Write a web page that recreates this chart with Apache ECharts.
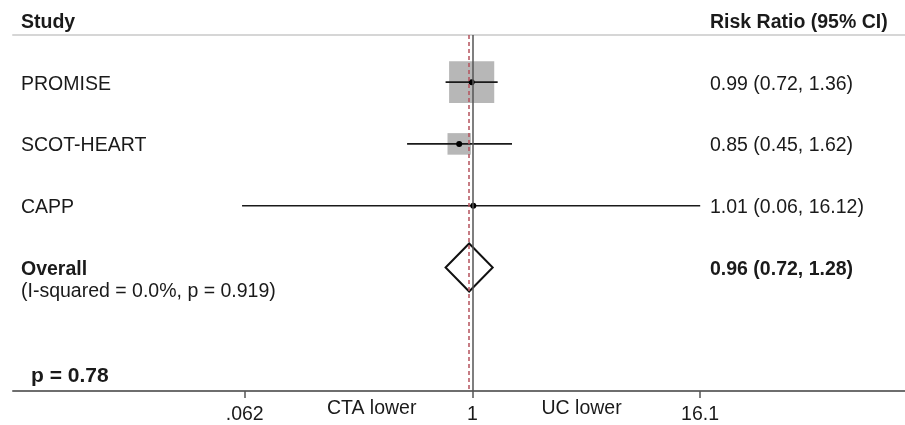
<!DOCTYPE html>
<html><head><meta charset="utf-8">
<script src="https://cdn.jsdelivr.net/npm/echarts@6/dist/echarts.min.js"></script>
<style>html,body{margin:0;padding:0;background:#fff}#c{width:905px;height:425px}</style>
</head><body><div id="c"></div>
<script>
// ---- data ----
const headers = ['Study', 'Risk Ratio (95% CI)'];
const studies = ['PROMISE', 'SCOT-HEART', 'CAPP'];
const rr = [0.99, 0.85, 1.01];
const lower = [0.72, 0.45, 0.06];
const upper = [1.36, 1.62, 16.12];
const weights = [78.5, 21.0, 0.5];
const overallLabel = 'Overall';
const heterogeneity = '(I-squared = 0.0%, p = 0.919)';
const overall = [0.96, 0.72, 1.28]; // estimate, lower, upper
const pValueText = 'p = 0.78';
const tickValues = [0.062, 1, 16.1];
const tickLabels = ['.062', '1', '16.1'];
const sideLabelValues = [0.292, 3.79];
const sideLabels = ['CTA lower', 'UC lower'];

// ---- layout / style ----
const FONT = '"Liberation Sans", Arial, Helvetica, sans-serif';
const TXT = '#1a1a1a';
const FS = 19.5;
const X_MIN = 0.003661, X_MAX = 196.5;
const fmt = v => v.toFixed(2);
const nRows = studies.length;

const tableRows = [{row: -1, left: headers[0], right: headers[1], bold: true}];
studies.forEach((s, i) => tableRows.push({row: i, left: s, right: `${fmt(rr[i])} (${fmt(lower[i])}, ${fmt(upper[i])})`, bold: false}));
tableRows.push({row: nRows, left: overallLabel, sub: heterogeneity,
  right: `${fmt(overall[0])} (${fmt(overall[1])}, ${fmt(overall[2])})`, bold: true});

const labelValues = [tickValues[0], sideLabelValues[0], tickValues[1], sideLabelValues[1], tickValues[2]];
const labelTexts = [tickLabels[0], sideLabels[0], tickLabels[1], sideLabels[1], tickLabels[2]];

function labelFor(v) {
  let best = 0;
  labelValues.forEach((lv, k) => {
    if (Math.abs(Math.log(lv) - Math.log(v)) < Math.abs(Math.log(labelValues[best]) - Math.log(v))) best = k;
  });
  const isTick = tickValues.indexOf(labelValues[best]) >= 0;
  return isTick ? `{n|${labelTexts[best]}}` : `{t|${labelTexts[best]}}`;
}

const chart = echarts.init(document.getElementById('c'), null, {renderer: 'canvas'});
chart.setOption({
  animation: false,
  backgroundColor: '#fff',
  grid: {left: 13, right: 0, top: 35, bottom: 32.5, containLabel: false},
  xAxis: [{
    type: 'log', logBase: 10, min: X_MIN, max: X_MAX, position: 'bottom',
    axisLine: {show: true, onZero: false, lineStyle: {color: '#6e6e6e', width: 2}},
    axisTick: {show: true, customValues: tickValues, length: 7, lineStyle: {color: '#555', width: 1.5}},
    minorTick: {show: false},
    splitLine: {show: false},
    axisLabel: {
      customValues: labelValues, margin: 8, formatter: labelFor, color: TXT,
      fontFamily: FONT, fontSize: FS,
      rich: {
        n: {fontFamily: FONT, fontSize: FS, color: TXT, padding: [6, 0, 0, 0]},
        t: {fontFamily: FONT, fontSize: FS, color: TXT}
      }
    }
  }, {
    type: 'log', logBase: 10, min: X_MIN, max: X_MAX, position: 'top',
    axisLine: {show: true, onZero: false, lineStyle: {color: '#d6d6d6', width: 2}},
    axisTick: {show: false}, axisLabel: {show: false}, splitLine: {show: false}, minorTick: {show: false}
  }],
  yAxis: {type: 'value', inverse: true, min: -0.763, max: 5.0, show: false},
  graphic: [{
    type: 'text', left: 31, top: 366,
    style: {text: pValueText, fontFamily: FONT, fontSize: 21, fontWeight: 'bold', fill: TXT}
  }],
  series: [
    {
      type: 'line', data: [], z: 1, silent: true,
      markLine: {
        silent: true, symbol: ['none', 'none'], label: {show: false},
        data: [
          {xAxis: 1, lineStyle: {color: '#555', width: 1.5, type: 'solid'}},
          {xAxis: overall[0], lineStyle: {color: '#b5525c', width: 1.5, type: [4, 3]}}
        ]
      }
    },
    {
      type: 'scatter', z: 3, silent: true,
      symbol: 'rect',
      symbolSize: (val, p) => { const s = Math.sqrt(weights[p.dataIndex]) * 4.9; return [s * 1.04, s * 0.96]; },
      itemStyle: {color: '#b7b7b7', opacity: 1},
      data: studies.map((s, i) => [rr[i], i])
    },
    {
      type: 'custom', z: 4, silent: true,
      data: studies.map((s, i) => [lower[i], upper[i], rr[i], i]),
      encode: {x: [0, 1, 2], y: 3},
      renderItem: (params, api) => {
        const row = api.value(3);
        const a = api.coord([api.value(0), row]);
        const b = api.coord([api.value(1), row]);
        const c = api.coord([api.value(2), row]);
        return {type: 'group', children: [
          {type: 'line', shape: {x1: a[0], y1: a[1], x2: b[0], y2: b[1]}, style: {stroke: '#1a1a1a', lineWidth: 1.6}},
          {type: 'circle', shape: {cx: c[0], cy: c[1], r: 3}, style: {fill: '#000'}}
        ]};
      }
    },
    {
      type: 'custom', z: 4, silent: true,
      data: [[overall[1], overall[2], overall[0], nRows]],
      encode: {x: [0, 1, 2], y: 3},
      renderItem: (params, api) => {
        const row = api.value(3);
        const l = api.coord([api.value(0), row]);
        const r = api.coord([api.value(1), row]);
        const c = api.coord([api.value(2), row]);
        const h = 24;
        return {type: 'polygon', shape: {points: [l, [c[0], c[1] - h], r, [c[0], c[1] + h]]},
          style: {fill: 'none', stroke: '#111', lineWidth: 2, lineJoin: 'miter'}};
      }
    },
    {
      type: 'custom', z: 5, silent: true, clip: false,
      data: tableRows.map(r => [1, r.row]),
      encode: {x: 0, y: 1},
      renderItem: (params, api) => {
        const r = tableRows[params.dataIndex];
        const y = api.coord([1, api.value(1)])[1] + 2;
        const mk = (x, yy, text, bold) => ({type: 'text', x: x, y: yy,
          style: {text: text, fontFamily: FONT, fontSize: FS, fontWeight: bold ? 'bold' : 'normal',
            fill: TXT, align: 'left', verticalAlign: 'middle'}});
        const ch = [mk(21, y, r.left, r.bold), mk(710, y, r.right, r.bold)];
        if (r.sub) ch.push(mk(21, y + 22, r.sub, false));
        return {type: 'group', children: ch};
      }
    }
  ]
});
</script>
</body></html>
